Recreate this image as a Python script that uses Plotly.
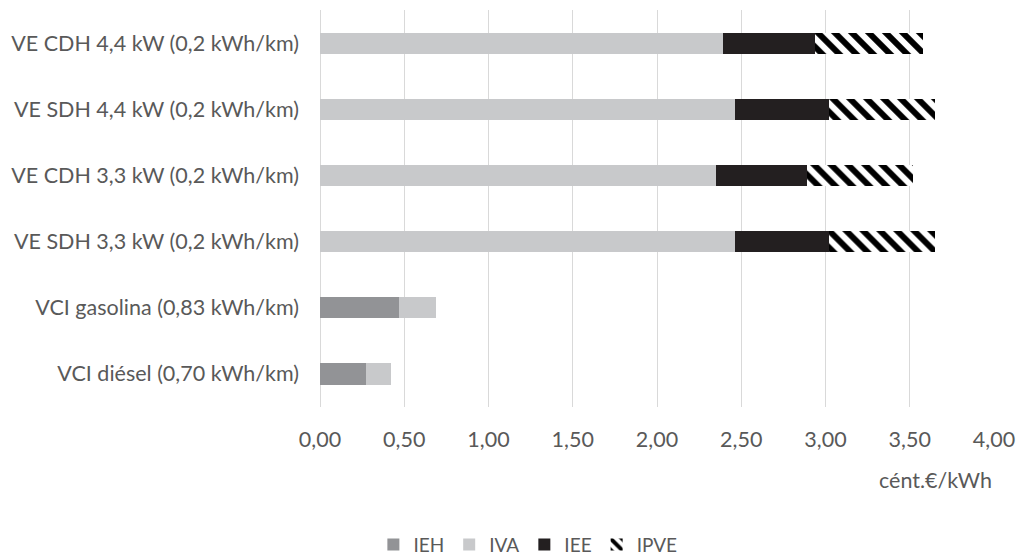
import plotly.graph_objects as go

# Vehicles, listed top to bottom as drawn
categories = [
    "VE CDH 4,4 kW (0,2 kWh/km)",
    "VE SDH 4,4 kW (0,2 kWh/km)",
    "VE CDH 3,3 kW (0,2 kWh/km)",
    "VE SDH 3,3 kW (0,2 kWh/km)",
    "VCI gasolina (0,83 kWh/km)",
    "VCI diésel (0,70 kWh/km)",
]

# Tax components, cént.€/kWh
ieh = [0, 0, 0, 0, 0.47, 0.27]
iva = [2.39, 2.46, 2.35, 2.46, 0.22, 0.15]
iee = [0.55, 0.56, 0.54, 0.56, 0, 0]
ipve = [0.64, 0.63, 0.63, 0.63, 0, 0]

tick_vals = [0, 0.5, 1, 1.5, 2, 2.5, 3, 3.5, 4]

FONT = "Lato"
TXT = "#595959"
SIZE = 21.5

fig = go.Figure()
fig.add_trace(go.Bar(name="IEH", y=categories, x=ieh, orientation="h",
                     marker=dict(color="#929396", line=dict(width=0))))
fig.add_trace(go.Bar(name="IVA", y=categories, x=iva, orientation="h",
                     marker=dict(color="#c8c9cb", line=dict(width=0))))
fig.add_trace(go.Bar(name="IEE", y=categories, x=iee, orientation="h",
                     marker=dict(color="#231f20", line=dict(width=0))))
fig.add_trace(go.Bar(name="IPVE", y=categories, x=ipve, orientation="h",
                     marker=dict(color="#ffffff", line=dict(width=0),
                                 pattern=dict(shape="\\", fgcolor="#000000",
                                              bgcolor="#ffffff", size=12,
                                              solidity=0.5,
                                              fillmode="replace"))))

fig.update_layout(
    width=1025, height=557,
    barmode="stack", bargap=0.68,
    paper_bgcolor="white", plot_bgcolor="white",
    margin=dict(l=320, r=25, t=10, b=150),
    separators=",.",
    font=dict(family=FONT, size=SIZE, color=TXT),
    legend=dict(orientation="h", xref="container", x=0.515, xanchor="center",
                yref="container", y=0.022, yanchor="middle",
                font=dict(family=FONT, size=19, color=TXT),
                traceorder="normal", itemwidth=30),
    xaxis=dict(range=[0, 4.0], tickvals=tick_vals, tickformat=".2f",
               showgrid=True, gridcolor="#d9d9d9", gridwidth=1,
               zeroline=True, zerolinecolor="#d9d9d9", zerolinewidth=1,
               showline=False, ticks="", ticklabelstandoff=17,
               tickfont=dict(family=FONT, size=SIZE, color=TXT)),
    yaxis=dict(autorange="reversed", showgrid=False, showline=False,
               ticks="", ticklabelstandoff=20,
               tickfont=dict(family=FONT, size=SIZE, color=TXT)),
    annotations=[dict(text="cént.€/kWh", xref="paper", yref="paper",
                      x=1.0, y=-0.185, xanchor="right", yanchor="middle",
                      showarrow=False,
                      font=dict(family=FONT, size=SIZE, color=TXT))],
)

fig.write_html("out.html")
